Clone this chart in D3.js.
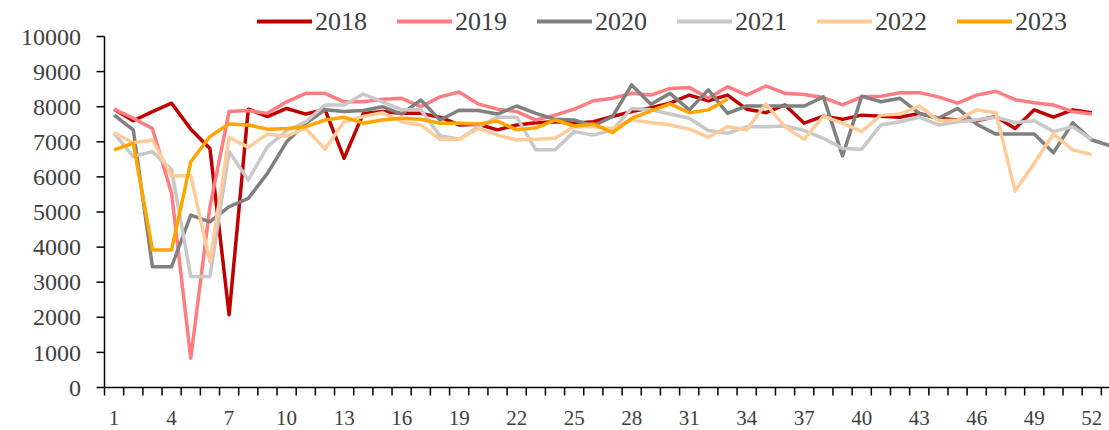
<!DOCTYPE html>
<html>
<head>
<meta charset="utf-8">
<script src="https://cdn.jsdelivr.net/npm/d3@7"></script>
<style>
  html, body { margin: 0; padding: 0; background: #fff; }
  svg { display: block; }
  text { font-family: "Liberation Serif", "Times New Roman", serif; fill: #404040; }
</style>
</head>
<body>
<svg id="chart" width="1109" height="430"></svg>
<script>
const weeks = d3.range(1, 54);
const tickLabels = [1, 4, 7, 10, 13, 16, 19, 22, 25, 28, 31, 34, 37, 40, 43, 46, 49, 52];
const yTicks = d3.range(0, 10001, 1000);
const seriesNames = ["2018", "2019", "2020", "2021", "2022", "2023"];
const colors = ["#C00000", "#FF7C80", "#808080", "#C8C8C8", "#FFCC99", "#FFA500"];

const v2018 = [7930, 7600, 7860, 8100, 7360, 6810, 2070, 7930, 7720, 7950, 7790, 7920, 6530, 7810, 7860, 7810, 7810, 7700, 7480, 7500, 7340, 7480, 7540, 7570, 7530, 7570, 7720, 7860, 7970, 8100, 8330, 8170, 8330, 7930, 7830, 8050, 7530, 7730, 7640, 7760, 7730, 7700, 7810, 7670, 7620, 7600, 7720, 7380, 7910, 7700, 7910, 7830];
const v2019 = [7930, 7670, 7380, 5530, 830, 5150, 7860, 7890, 7810, 8140, 8380, 8380, 8140, 8140, 8210, 8240, 8000, 8280, 8420, 8080, 7930, 7860, 7620, 7760, 7930, 8170, 8240, 8380, 8330, 8520, 8550, 8240, 8570, 8330, 8590, 8380, 8350, 8260, 8050, 8280, 8300, 8400, 8400, 8280, 8100, 8330, 8440, 8200, 8110, 8050, 7860, 7790];
const v2020 = [7760, 7340, 3440, 3440, 4910, 4720, 5150, 5390, 6100, 7000, 7530, 7910, 7860, 7890, 8000, 7790, 8190, 7620, 7900, 7890, 7790, 8020, 7810, 7640, 7620, 7450, 7720, 8620, 8070, 8380, 7910, 8480, 7810, 8020, 8020, 8020, 8020, 8280, 6600, 8300, 8140, 8240, 7810, 7670, 7950, 7500, 7220, 7220, 7220, 6690, 7540, 7050, 6880];
const v2021 = [7240, 6580, 6720, 6200, 3160, 3160, 6720, 5910, 6860, 7310, 7570, 8050, 8050, 8360, 8140, 7910, 7910, 7170, 7070, 7430, 7700, 7700, 6770, 6770, 7290, 7190, 7340, 7950, 7910, 7790, 7670, 7320, 7240, 7430, 7430, 7450, 7320, 7100, 6810, 6790, 7480, 7570, 7700, 7480, 7570, 7630, 7700, 7550, 7600, 7290, 7430, 7070];
const v2022 = [7260, 6970, 7050, 6030, 6030, 3580, 7130, 6840, 7220, 7160, 7380, 6790, 7570, 7720, 7830, 7570, 7480, 7070, 7070, 7380, 7190, 7050, 7070, 7100, 7430, 7430, 7380, 7620, 7550, 7480, 7360, 7130, 7430, 7340, 8080, 7430, 7070, 7730, 7530, 7290, 7760, 7790, 8020, 7600, 7620, 7910, 7830, 5600, 6390, 7220, 6770, 6640];
const v2023 = [6770, 6960, 3920, 3920, 6430, 7150, 7510, 7480, 7360, 7380, 7430, 7620, 7700, 7530, 7620, 7670, 7640, 7530, 7530, 7500, 7590, 7340, 7400, 7620, 7450, 7510, 7260, 7670, 7880, 8080, 7830, 7910, 8210];

const allValues = [v2018, v2019, v2020, v2021, v2022, v2023];

const svg = d3.select("#chart");
const plotLeft = 104.5, plotTop = 36.5, plotBottom = 387.5;
const step = 19.17;

const x = d3.scaleBand().domain(weeks).range([plotLeft, plotLeft + weeks.length * step]).padding(0);
const y = d3.scaleLinear().domain([0, 10000]).range([plotBottom, plotTop]);
const cx = w => x(w) + x.bandwidth() / 2;

// Y axis
const yAxis = svg.append("g");
yAxis.append("line").attr("x1", plotLeft).attr("x2", plotLeft).attr("y1", plotTop).attr("y2", plotBottom)
  .attr("stroke", "#000").attr("stroke-width", 1.5);
yAxis.selectAll("line.tick").data(yTicks).join("line").attr("class", "tick")
  .attr("x1", plotLeft - 8).attr("x2", plotLeft).attr("y1", d => y(d)).attr("y2", d => y(d))
  .attr("stroke", "#000").attr("stroke-width", 1.5);
yAxis.selectAll("text").data(yTicks).join("text")
  .attr("x", 81).attr("y", d => y(d)).attr("dy", "0.34em")
  .attr("text-anchor", "end").attr("font-size", 24).text(d => d);

// X axis
const xAxis = svg.append("g");
xAxis.append("line").attr("x1", plotLeft).attr("x2", 1109).attr("y1", plotBottom).attr("y2", plotBottom)
  .attr("stroke", "#000").attr("stroke-width", 1.5);
const bounds = d3.range(0, weeks.length + 1);
xAxis.selectAll("line.tick").data(bounds).join("line").attr("class", "tick")
  .attr("x1", d => plotLeft + d * step).attr("x2", d => plotLeft + d * step)
  .attr("y1", plotBottom).attr("y2", plotBottom + 8)
  .attr("stroke", "#000").attr("stroke-width", 1.5);
xAxis.selectAll("text").data(tickLabels).join("text")
  .attr("x", d => cx(d)).attr("y", 425)
  .attr("text-anchor", "middle").attr("font-size", 21).text(d => d);

// Lines
const line = d3.line().x((d, i) => cx(weeks[i])).y(d => y(d));
allValues.forEach((vals, i) => {
  svg.append("path").datum(vals)
    .attr("fill", "none").attr("stroke", colors[i]).attr("stroke-width", 3.5)
    .attr("stroke-linejoin", "round").attr("stroke-linecap", "butt")
    .attr("d", line);
});

// Legend
const legend = svg.append("g");
seriesNames.forEach((name, i) => {
  const lx = 257 + i * 140;
  legend.append("line").attr("x1", lx).attr("x2", lx + 55).attr("y1", 21.5).attr("y2", 21.5)
    .attr("stroke", colors[i]).attr("stroke-width", 4);
  legend.append("text").attr("x", lx + 58).attr("y", 30).attr("font-size", 26).text(name);
});
</script>
</body>
</html>
